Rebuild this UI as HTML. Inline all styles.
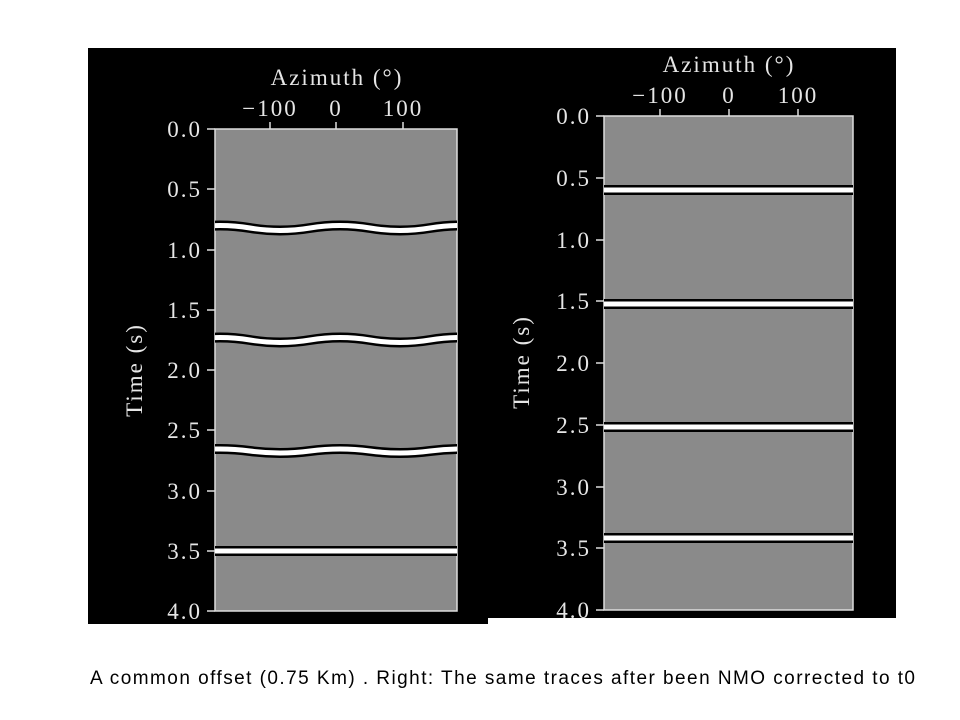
<!DOCTYPE html>
<html><head><meta charset="utf-8"><style>
html,body{margin:0;padding:0;background:#fff;width:960px;height:720px;overflow:hidden}
svg{display:block}
.t{font-family:"Liberation Serif",serif;fill:#e6e6e6;font-size:23px;letter-spacing:2px}
.c{font-family:"Liberation Sans",sans-serif;fill:#000;font-size:19px}
</style></head><body>
<svg width="960" height="720" viewBox="0 0 960 720">
<defs>
<clipPath id="cl"><rect x="215" y="129" width="242" height="482"/></clipPath>
<clipPath id="cr"><rect x="604" y="116" width="249" height="494"/></clipPath>
</defs>
<rect x="88" y="48" width="400" height="576" fill="#000"/>
<rect x="488" y="48" width="408" height="570" fill="#000"/>

<!-- left plot -->
<rect x="215" y="129" width="242" height="482" fill="#8a8a8a" stroke="#ddd" stroke-width="1.5"/>
<g clip-path="url(#cl)" fill="none">
<g stroke="#000" stroke-width="10">
<path d="M190,228 Q220,223 250,228 T310,228 T370,228 T430,228 T490,228"/>
<path d="M190,340 Q220,335 250,340 T310,340 T370,340 T430,340 T490,340"/>
<path d="M190,451 Q220,447 250,451 T310,451 T370,451 T430,451 T490,451"/>
<path d="M200,551 L470,551"/>
</g>
<g stroke="#fff" stroke-width="5">
<path d="M190,228 Q220,223 250,228 T310,228 T370,228 T430,228 T490,228"/>
<path d="M190,340 Q220,335 250,340 T310,340 T370,340 T430,340 T490,340"/>
<path d="M190,451 Q220,447 250,451 T310,451 T370,451 T430,451 T490,451"/>
<path d="M200,551 L470,551"/>
</g>
</g>
<g stroke="#ddd" stroke-width="1.5">
<line x1="207" y1="129" x2="215" y2="129"/><line x1="207" y1="189" x2="215" y2="189"/><line x1="207" y1="250" x2="215" y2="250"/><line x1="207" y1="310" x2="215" y2="310"/><line x1="207" y1="370" x2="215" y2="370"/><line x1="207" y1="430" x2="215" y2="430"/><line x1="207" y1="491" x2="215" y2="491"/><line x1="207" y1="551" x2="215" y2="551"/><line x1="207" y1="611" x2="215" y2="611"/>
<line x1="270" y1="122" x2="270" y2="129"/><line x1="336" y1="122" x2="336" y2="129"/><line x1="403" y1="122" x2="403" y2="129"/>
</g>
<g class="t" text-anchor="end">
<text x="202" y="137">0.0</text><text x="202" y="197">0.5</text><text x="202" y="258">1.0</text><text x="202" y="318">1.5</text><text x="202" y="378">2.0</text><text x="202" y="438">2.5</text><text x="202" y="499">3.0</text><text x="202" y="559">3.5</text><text x="202" y="619">4.0</text>
</g>
<g class="t" text-anchor="middle">
<text x="270" y="116">−100</text><text x="336" y="116">0</text><text x="403" y="116">100</text>
<text x="337" y="85">Azimuth (°)</text>
<text transform="translate(142,370) rotate(-90)">Time (s)</text>
</g>

<!-- right plot -->
<rect x="604" y="116" width="249" height="494" fill="#8a8a8a" stroke="#ddd" stroke-width="1.5"/>
<g clip-path="url(#cr)" fill="none">
<g stroke="#000" stroke-width="10">
<path d="M600,190 L860,190"/><path d="M600,304 L860,304"/><path d="M600,427 L860,427"/><path d="M600,538 L860,538"/>
</g>
<g stroke="#fff" stroke-width="5">
<path d="M600,190 L860,190"/><path d="M600,304 L860,304"/><path d="M600,427 L860,427"/><path d="M600,538 L860,538"/>
</g>
</g>
<g stroke="#ddd" stroke-width="1.5">
<line x1="596" y1="116" x2="604" y2="116"/><line x1="596" y1="178" x2="604" y2="178"/><line x1="596" y1="240" x2="604" y2="240"/><line x1="596" y1="301" x2="604" y2="301"/><line x1="596" y1="363" x2="604" y2="363"/><line x1="596" y1="425" x2="604" y2="425"/><line x1="596" y1="487" x2="604" y2="487"/><line x1="596" y1="548" x2="604" y2="548"/><line x1="596" y1="610" x2="604" y2="610"/>
<line x1="660" y1="109" x2="660" y2="116"/><line x1="729" y1="109" x2="729" y2="116"/><line x1="798" y1="109" x2="798" y2="116"/>
</g>
<g class="t" text-anchor="end">
<text x="591" y="124">0.0</text><text x="591" y="186">0.5</text><text x="591" y="248">1.0</text><text x="591" y="309">1.5</text><text x="591" y="371">2.0</text><text x="591" y="433">2.5</text><text x="591" y="495">3.0</text><text x="591" y="556">3.5</text><text x="591" y="618">4.0</text>
</g>
<g class="t" text-anchor="middle">
<text x="660" y="103">−100</text><text x="729" y="103">0</text><text x="798" y="103">100</text>
<text x="729" y="72">Azimuth (°)</text>
<text transform="translate(529,362) rotate(-90)">Time (s)</text>
</g>

<text class="c" x="90" y="684" textLength="825" lengthAdjust="spacing">A common offset  (0.75 Km) . Right: The same traces after been NMO corrected to t0</text>
</svg>
</body></html>
